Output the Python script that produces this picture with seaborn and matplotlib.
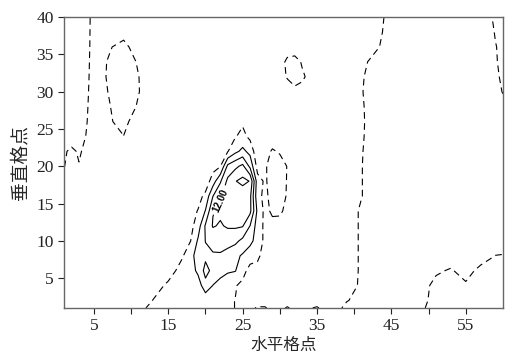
import numpy as np
import matplotlib
matplotlib.use("Agg")
import matplotlib.pyplot as plt
import seaborn as sns

# grid point positions of the field
x_pts = [1, 2, 3, 4, 5, 7, 9, 11, 13, 15, 17, 18, 19, 20, 21, 22, 23, 24, 25, 26,
         27, 28, 29, 30, 31, 32, 33, 35, 37, 39, 41, 43, 45, 47, 49, 51, 53, 55, 57, 59, 60]
y_pts = [40, 38, 36, 34, 32, 30, 28, 26, 24, 22, 20, 18, 16, 14, 12, 10, 8, 6, 4, 2, 1]

# field values, one row per y (top row first)
field = [
    [2.0, 1.8, 1.5, 1.0, -1.0, -1.2, -1.3, -1.5, -1.5, -1.5, -1.5, -1.5, -1.5, -1.5, -1.5, -1.5, -1.5, -1.5, -1.5, -1.5,
     -1.5, -1.5, -1.5, -1.5, -1.5, -1.5, -1.5, -1.3, -1.2, -1.0, -0.8, -0.5, 0.5, 1.0, 1.0, 1.0, 1.0, 1.0, 1.0, -0.3, -0.5],
    [2.0, 1.8, 1.5, 0.95, -1.05, -1.2, -1.2, -1.5, -1.5, -1.5, -1.5, -1.5, -1.5, -1.5, -1.5, -1.5, -1.5, -1.5, -1.5, -1.5,
     -1.5, -1.5, -1.5, -1.5, -1.5, -1.5, -1.5, -1.3, -1.2, -1.0, -0.8, -0.4, 0.6, 1.0, 1.0, 1.0, 1.0, 1.0, 1.0, -0.1, -0.4],
    [2.0, 1.8, 1.5, 0.9, -1.1, -0.3, 1.0, -1.8, -1.5, -1.5, -1.5, -1.5, -1.5, -1.5, -1.5, -1.5, -1.5, -1.5, -1.5, -1.5,
     -1.5, -1.5, -1.5, -1.5, -1.2, -1.2, -1.3, -1.3, -1.2, -1.0, -0.8, -0.2, 0.8, 1.0, 1.0, 1.0, 1.0, 1.0, 1.0, 0.05, -0.3],
    [2.0, 1.8, 1.5, 0.8, -1.2, 0.2, 1.5, -0.3, -1.5, -1.5, -1.5, -1.5, -1.5, -1.5, -1.5, -1.5, -1.5, -1.5, -1.5, -1.5,
     -1.5, -1.5, -1.5, -1.0, 0.5, 0.8, -0.2, -1.2, -1.2, -1.0, -0.4, 0.6, 1.0, 1.0, 1.0, 1.0, 1.0, 1.0, 1.0, 0.1, -0.3],
    [2.0, 1.8, 1.5, 0.7, -1.3, 0.3, 1.8, 0.05, -1.5, -1.5, -1.5, -1.5, -1.5, -1.5, -1.5, -1.5, -1.5, -1.5, -1.5, -1.5,
     -1.5, -1.5, -1.5, -1.0, 0.2, 1.0, 0.3, -1.2, -1.2, -1.0, -0.2, 1.0, 1.0, 1.0, 1.0, 1.0, 1.0, 1.0, 1.0, 0.2, -0.2],
    [2.0, 1.8, 1.5, 0.55, -1.4, 0.1, 1.8, 0.1, -1.5, -1.5, -1.5, -1.5, -1.5, -1.5, -1.5, -1.5, -1.5, -1.5, -1.5, -1.5,
     -1.5, -1.5, -1.5, -1.2, -1.2, -0.6, -0.6, -1.2, -1.2, -1.0, -0.1, 1.0, 1.0, 1.0, 1.0, 1.0, 1.0, 1.0, 1.0, 0.3, -0.05],
    [2.0, 1.8, 1.5, 0.4, -1.6, -0.2, 1.5, -0.3, -1.5, -1.5, -1.5, -1.5, -1.5, -1.5, -1.5, -1.5, -1.5, -1.5, -1.5, -1.5,
     -1.5, -1.5, -1.5, -1.5, -1.5, -1.5, -1.5, -1.2, -1.2, -1.0, -0.2, 1.0, 1.0, 1.0, 1.0, 1.0, 1.0, 1.0, 1.0, 1.0, 0.3],
    [2.0, 1.8, 1.2, 0.2, -1.8, -0.3, 0.8, -1.5, -1.5, -1.5, -1.5, -1.5, -1.5, -1.5, -1.5, -1.5, -1.5, -1.2, -0.65, -1.2,
     -1.5, -1.5, -1.5, -1.5, -1.5, -1.5, -1.5, -1.2, -1.2, -1.0, -0.25, 1.0, 1.0, 1.0, 1.0, 1.0, 1.0, 1.0, 1.0, 1.0, 1.0],
    [2.0, 2.0, 1.8, -0.2, -2.0, -1.0, -0.05, -1.5, -1.5, -1.5, -1.5, -1.5, -1.5, -1.5, -1.5, -1.3, -1.2, -0.3, 1.2, -1.0,
     -1.5, -1.5, -1.5, -1.5, -1.5, -1.5, -1.5, -1.2, -1.2, -1.0, -0.2, 1.0, 1.0, 1.0, 1.0, 1.0, 1.0, 1.0, 1.0, 1.0, 1.0],
    [0.5, -0.8, 0.5, -1.0, -2.0, -1.5, -1.5, -1.5, -1.5, -1.5, -1.5, -1.5, -1.5, -1.5, -1.2, -1.0, -0.2, 3.0, 5.0, 2.8,
     -3.0, -1.0, 0.3, -0.3, -1.0, -1.2, -1.5, -1.2, -1.2, -1.0, -0.1, 1.0, 1.0, 1.0, 1.0, 1.0, 1.0, 1.0, 1.0, 1.0, 1.0],
    [0.05, -0.6, -0.2, -1.2, -2.0, -1.5, -1.5, -1.5, -1.5, -1.5, -1.5, -1.5, -1.5, -1.8, -1.5, -0.2, 9.0, 11.0, 13.0, 7.0,
     -1.5, -0.3, 1.0, 1.2, -0.1, -1.0, -1.5, -1.2, -1.2, -1.0, -0.05, 1.0, 1.0, 1.0, 1.0, 1.0, 1.0, 1.0, 1.0, 1.0, 1.0],
    [-1.0, -1.2, -1.2, -1.5, -2.0, -1.5, -1.5, -1.5, -1.5, -1.5, -1.5, -1.8, -2.0, -2.5, 2.0, 7.5, 13.0, 15.8, 17.1, 15.8,
     1.5, -0.5, 1.5, 1.6, -0.2, -1.2, -1.5, -1.2, -1.2, -1.0, -0.05, 1.0, 1.0, 1.0, 1.0, 1.0, 1.0, 1.0, 1.0, 1.0, 1.0],
    [-1.5, -1.5, -1.5, -1.5, -1.8, -1.5, -1.5, -1.5, -1.5, -1.5, -1.5, -1.5, -1.5, 1.0, 7.9, 11.5, 13.5, 14.0, 13.5, 13.0,
     1.0, -0.8, 1.2, 1.4, -0.3, -1.2, -1.5, -1.2, -1.2, -1.0, -0.05, 1.0, 1.0, 1.0, 1.0, 1.0, 1.0, 1.0, 1.0, 1.0, 1.0],
    [-1.5, -1.5, -1.5, -1.5, -1.8, -1.5, -1.5, -1.5, -1.5, -1.5, -1.5, -1.5, 0.2, 4.2, 11.8, 12.7, 14.0, 14.5, 14.0, 13.0,
     3.0, -1.0, 0.6, 0.5, -0.8, -1.3, -1.5, -1.2, -1.2, -1.0, 0.3, 1.0, 1.0, 1.0, 1.0, 1.0, 1.0, 1.0, 1.0, 1.0, 1.0],
    [-1.5, -1.5, -1.5, -1.5, -1.8, -1.5, -1.5, -1.5, -1.5, -1.5, -1.5, -1.2, 2.0, 8.5, 12.3, 11.6, 12.5, 12.6, 12.3, 7.9,
     2.0, -0.8, -1.0, -1.0, -1.2, -1.3, -1.5, -1.2, -1.2, -1.0, 0.3, 1.0, 1.0, 1.0, 1.0, 1.0, 1.0, 1.0, 1.0, 1.0, 1.0],
    [-1.5, -1.5, -1.5, -1.5, -1.8, -1.5, -1.5, -1.5, -1.5, -1.5, -1.5, -0.05, 4.5, 8.1, 9.5, 9.8, 9.5, 9.0, 7.0, 5.0,
     2.5, -1.0, -1.2, -1.2, -1.2, -1.3, -1.5, -1.2, -1.2, -1.0, 0.3, 1.0, 1.0, 1.0, 1.0, 1.0, 1.0, 1.0, 1.0, 1.0, 1.0],
    [-1.5, -1.5, -1.5, -1.5, -1.8, -1.5, -1.5, -1.5, -1.5, -1.5, -0.1, 2.5, 6.0, 7.2, 7.5, 7.5, 6.5, 5.0, 3.5, 2.0,
     0.5, -1.0, -1.2, -1.2, -1.2, -1.3, -1.5, -1.2, -1.2, -1.0, 0.3, 1.0, 1.0, 1.0, 1.0, 1.0, 1.0, 1.0, 1.0, -0.03, -0.1],
    [-1.5, -1.5, -1.5, -1.5, -1.8, -1.5, -1.5, -1.5, -1.5, -1.0, 1.0, 2.0, 5.0, 9.2, 7.0, 5.5, 4.5, 4.2, 1.5, -1.5,
     -0.8, -1.2, -1.2, -1.2, -1.2, -1.3, -1.5, -1.2, -1.2, -1.0, 0.3, 1.0, 1.0, 1.0, 1.0, 0.3, -0.2, 0.8, -0.6, -1.0, -1.0],
    [-1.5, -1.5, -1.5, -1.5, -1.8, -1.5, -1.5, -1.5, -1.0, 0.43, 1.2, 1.4, 1.6, 6.8, 3.9, 2.5, 1.5, 0.3, -1.0, -1.5,
     -1.2, -1.2, -1.2, -1.2, -1.2, -1.3, -1.3, -1.2, -1.2, -1.0, 0.4, 1.0, 1.0, 1.0, 0.8, -0.6, -1.0, -0.3, -1.0, -1.0, -1.0],
    [-1.5, -1.5, -1.5, -1.5, -1.8, -1.5, -1.5, -1.5, 0.1, 0.8, 1.0, 1.0, 1.0, 1.0, 1.0, 0.8, 0.5, -0.05, -1.0, -1.2,
     -0.8, -0.8, -1.0, -1.0, -0.8, -1.0, -1.0, -0.8, -1.0, -0.1, 0.6, 1.0, 1.0, 0.6, 0.5, -0.6, -1.0, -1.0, -1.0, -1.0, -1.0],
    [-1.2, -1.2, -1.2, -1.2, -1.2, -1.2, -1.2, -0.6, 0.6, 0.8, 0.8, 0.8, 0.8, 0.8, 0.8, 0.8, 0.5, -0.05, -0.6, -0.3,
     0.15, 0.15, -0.5, -0.4, 0.15, -0.4, -0.3, 0.15, -1.0, 0.5, 0.8, 1.0, 1.0, 0.3, 0.3, -0.8, -1.0, -1.0, -1.0, -1.0, -1.0],
]

levels = [0, 4, 8, 12, 16]
x_major = [5, 15, 25, 35, 45, 55]
x_minor = [10, 20, 30, 40, 50]
y_major = [5, 10, 15, 20, 25, 30, 35, 40]

sns.set_style("ticks")
plt.rcParams["font.family"] = ["Liberation Serif", "DejaVu Serif"]

fig, ax = plt.subplots(figsize=(5.05, 3.56), dpi=100)
fig.subplots_adjust(left=0.127, right=0.996, bottom=0.135, top=0.952)

Z = np.array(field)[::-1]
X, Y = np.meshgrid(x_pts, y_pts[::-1])
cs = ax.contour(X, Y, Z, levels=levels, colors="black", linewidths=0.8,
                linestyles=[(0, (6, 4))] + ["solid"] * 4)

# only the 12 contour carries a label; the point sits right next to it
lbl = ax.clabel(cs, fmt="%.2f", fontsize=7, inline=True, manual=[(22.0, 15.4)])
for t in lbl:
    t.set_fontfamily("Liberation Sans")
    t.set_fontweight("bold")

ax.set_xlim(1, 60)
ax.set_ylim(1, 40)
ax.set_xticks(x_major)
ax.set_xticks(x_minor, minor=True)
ax.set_yticks(y_major)
ax.tick_params(which="both", direction="out", length=4.5, width=0.8, labelsize=12.5,
               colors="#222222", pad=3)
for s in ax.spines.values():
    s.set_linewidth(1.0)
    s.set_color("#666666")

ax.set_xlabel("水平格点", fontfamily=["Noto Sans CJK SC", "DejaVu Sans"], fontsize=12, labelpad=2)
ax.set_ylabel("垂直格点", fontfamily=["Noto Sans CJK SC", "DejaVu Sans"], fontsize=13.5, labelpad=4)

fig.savefig("out.png", dpi=100)
